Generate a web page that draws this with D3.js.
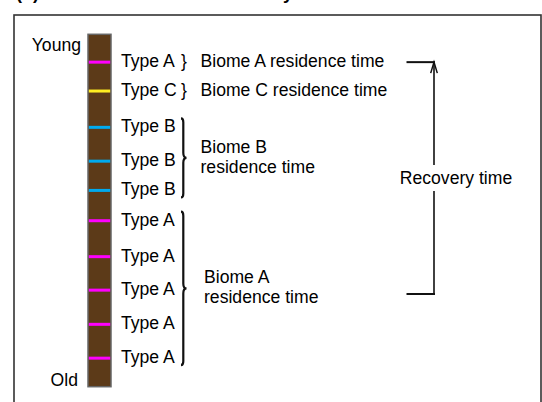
<!DOCTYPE html>
<html><head><meta charset="utf-8">
<script src="https://cdn.jsdelivr.net/npm/d3@7/dist/d3.min.js"></script>
<style>html,body{margin:0;padding:0;background:#fff;} svg{display:block;font-family:"Liberation Sans",Arial,sans-serif;}</style>
</head><body>
<script>
// ---- data ----
const title = "(b) Residence time and recovery";
const endLabels = ["Young", "Old"];
const bandTypes = ["A", "C", "B", "B", "B", "A", "A", "A", "A", "A"];
const bandDepths = [7.9, 16.1, 26.4, 36.0, 44.3, 52.9, 63.1, 72.6, 82.3, 91.9];
const groupLabels = [["Biome A residence time"], ["Biome C residence time"], ["Biome B", "residence time"], ["Biome A", "residence time"]];
const groupStart = [0, 1, 2, 5];
const groupEnd = [0, 1, 4, 9];
const recoveryLabel = "Recovery time";
const recoveryDepths = [7.9, 73.7];

// ---- drawing ----
const W = 542, H = 402;
const svg = d3.select("body").append("svg").attr("width", W).attr("height", H);
const y = d3.scaleLinear().domain([0, 100]).range([34.3, 386.7]);
const color = d3.scaleOrdinal().domain(["A", "B", "C"]).range(["#ff00ff", "#00aaee", "#ffee22"]);
const fs = 17.6;

// title (mostly clipped at top, as in the reference)
svg.append("text").attr("x", 16).attr("y", -1.5).attr("font-size", 18).attr("font-weight", "bold").text(title);

// frame
svg.append("rect").attr("x", 14).attr("y", 15).attr("width", 527).attr("height", 420)
  .attr("fill", "none").attr("stroke", "#333").attr("stroke-width", 1.6);

// core
const coreX0 = 88, coreX1 = 111;
svg.append("rect").attr("x", coreX0).attr("y", y(0)).attr("width", coreX1 - coreX0).attr("height", y(100) - y(0))
  .attr("fill", "#5c3a18").attr("stroke", "#666").attr("stroke-width", 1.5);

svg.selectAll("line.band").data(bandDepths).join("line").attr("class", "band")
  .attr("x1", coreX0 + 0.8).attr("x2", coreX1 - 0.8)
  .attr("y1", d => y(d)).attr("y2", d => y(d))
  .attr("stroke", (d, i) => color(bandTypes[i])).attr("stroke-width", 3);

// Young / Old
svg.append("text").attr("x", 81).attr("y", y(0) + 16.5).attr("text-anchor", "end").attr("font-size", fs).text(endLabels[0]);
svg.append("text").attr("x", 78).attr("y", y(100) - 1).attr("text-anchor", "end").attr("font-size", fs).text(endLabels[1]);

// type labels
svg.selectAll("text.type").data(bandDepths).join("text").attr("class", "type")
  .attr("x", 121).attr("y", d => y(d) + 5).attr("font-size", fs)
  .text((d, i) => "Type " + bandTypes[i]);

// group braces and labels
const braceX = 182.5;
groupLabels.forEach((lines, g) => {
  const a = bandDepths[groupStart[g]], b = bandDepths[groupEnd[g]];
  if (groupStart[g] === groupEnd[g]) {
    svg.append("text").attr("x", 181).attr("y", y(a) + 5).attr("font-size", fs).text("}");
    svg.append("text").attr("x", 200.5).attr("y", y(a) + 5).attr("font-size", fs).text(lines[0]);
  } else {
    const t = y(a) - 9, bt = y(b) + 7, m = (t + bt) / 2, x = braceX;
    const p = `M${x - 1.5},${t} Q${x + 0.8},${t} ${x + 0.8},${t + 4} L${x + 0.8},${m - 5} Q${x + 0.8},${m} ${x + 4},${m} ` +
      `Q${x + 0.8},${m} ${x + 0.8},${m + 5} L${x + 0.8},${bt - 4} Q${x + 0.8},${bt} ${x - 1.5},${bt}`;
    svg.append("path").attr("d", p).attr("fill", "none").attr("stroke", "#111").attr("stroke-width", 2.2);
    const tx = g === 3 ? 204 : 200.5;
    lines.forEach((l, k) => {
      svg.append("text").attr("x", tx).attr("y", m - 5 + k * 20).attr("font-size", fs).text(l);
    });
  }
});

// recovery bracket
const rx = 434, rTop = y(recoveryDepths[0]), rBot = y(recoveryDepths[1]), rMid = (rTop + rBot) / 2;
const g2 = svg.append("g").attr("stroke", "#111").attr("fill", "none");
g2.append("line").attr("x1", 406.5).attr("x2", rx + 1).attr("y1", rTop).attr("y2", rTop).attr("stroke-width", 2);
g2.append("line").attr("x1", 406.5).attr("x2", rx + 1).attr("y1", rBot).attr("y2", rBot).attr("stroke-width", 2);
g2.append("line").attr("x1", rx).attr("x2", rx).attr("y1", rTop).attr("y2", rMid - 13).attr("stroke-width", 1.6);
g2.append("line").attr("x1", rx).attr("x2", rx).attr("y1", rMid + 13).attr("y2", rBot).attr("stroke-width", 1.6);
g2.append("path").attr("d", `M${rx - 3.3},${rTop + 11} L${rx},${rTop} L${rx + 3.3},${rTop + 11}`).attr("stroke-width", 1.5);
svg.append("text").attr("x", 456).attr("y", rMid + 6).attr("text-anchor", "middle").attr("font-size", fs).text(recoveryLabel);
</script>
</body></html>
